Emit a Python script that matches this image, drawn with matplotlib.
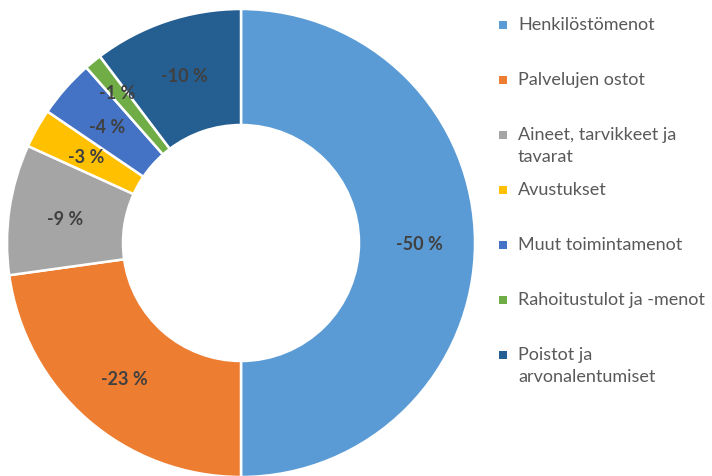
import matplotlib.pyplot as plt
import numpy as np
from matplotlib.patches import Rectangle

plt.rcParams['font.family'] = ['Lato', 'DejaVu Sans']

categories = ['Henkilöstömenot', 'Palvelujen ostot', 'Aineet, tarvikkeet ja\ntavarat',
              'Avustukset', 'Muut toimintamenot', 'Rahoitustulot ja -menot',
              'Poistot ja\narvonalentumiset']
shares = [50, 22.8, 9.0, 2.7, 4.0, 1.2, 10.3]
labels = ['-50 %', '-23 %', '-9 %', '-3 %', '-4 %', '-1 %', '-10 %']
colors = ['#5B9BD5', '#ED7D31', '#A5A5A5', '#FFC000', '#4472C4', '#70AD47', '#255E91']

W, H = 712, 476
fig = plt.figure(figsize=(W / 100, H / 100), dpi=100)
ax = fig.add_axes([0, 0, 1, 1])

cx, cy, r_out, r_in = 241, H - 243, 234, 118
wedges, _ = ax.pie(shares, colors=colors, startangle=90, counterclock=False,
                   center=(cx, cy), radius=r_out,
                   wedgeprops=dict(width=r_out - r_in, edgecolor='white', linewidth=1.8))

# labels in the middle of the ring; the thin slice gets pushed outwards a bit
r_mid = (r_out + r_in) / 2 + 2
for w, lab, s in zip(wedges, labels, shares):
    ang = np.deg2rad((w.theta1 + w.theta2) / 2)
    r = r_mid + 18 if s < 2 else r_mid
    ax.text(cx + r * np.cos(ang), cy + r * np.sin(ang) - 2, lab,
            ha='center', va='center', fontsize=13, fontweight='bold', color='#404040')

ax.set_xlim(0, W)
ax.set_ylim(0, H)
ax.set_aspect('equal')
ax.axis('off')

# legend drawn by hand to keep Excel's even spacing
for i, (name, col) in enumerate(zip(categories, colors)):
    y = 25 + i * 55
    fig.patches.append(Rectangle((499 / W, 1 - (y + 4) / H), 8 / W, 8 / H,
                                 transform=fig.transFigure, facecolor=col, edgecolor='none'))
    for j, line in enumerate(name.split('\n')):
        fig.text(518 / W, 1 - (y + j * 22) / H, line, ha='left', va='center',
                 fontsize=13, color='#595959')

fig.savefig('out.png', dpi=100)
